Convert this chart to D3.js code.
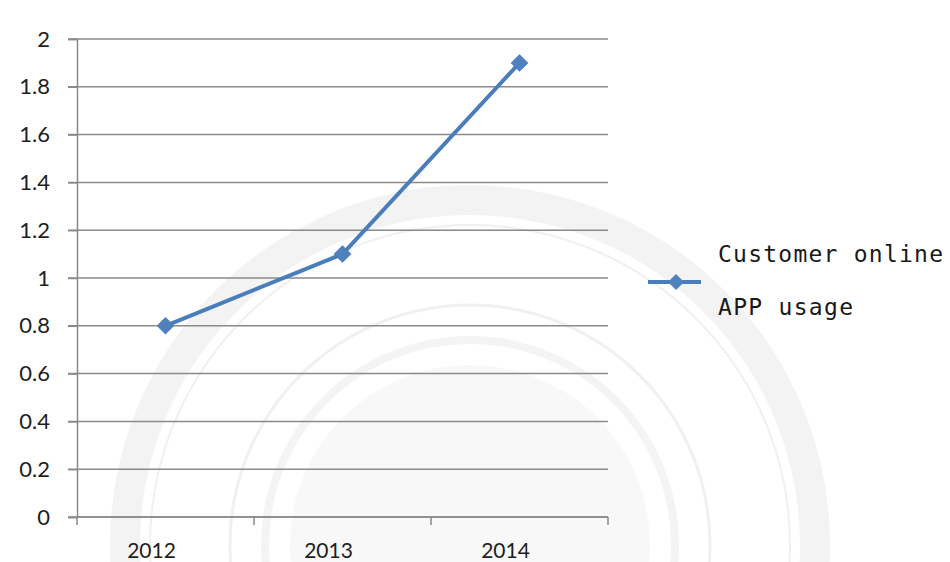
<!DOCTYPE html>
<html>
<head>
<meta charset="utf-8">
<script src="https://cdn.jsdelivr.net/npm/d3@7"></script>
<style>
  html, body { margin: 0; padding: 0; background: #ffffff; }
  svg { display: block; }
</style>
</head>
<body>
<svg id="chart" width="950" height="562"></svg>
<script>
// Chart data
const years = ["2012", "2013", "2014"];
const usage = [0.8, 1.1, 1.9];
const yTicks = [0, 0.2, 0.4, 0.6, 0.8, 1, 1.2, 1.4, 1.6, 1.8, 2];
const seriesName = ["Customer online", "APP usage"];

const svg = d3.select("#chart");

const plot = { left: 77, right: 608, top: 39, bottom: 517 };

const x = d3.scaleBand().domain(years).range([plot.left, plot.right]).paddingInner(0).paddingOuter(0);
const y = d3.scaleLinear().domain([0, 2]).range([plot.bottom, plot.top]);

// Faint seal in the background
const seal = svg.append("g").attr("class", "seal").attr("fill", "none");
const cx = 470, cy = 545;
seal.append("circle").attr("cx", cx).attr("cy", cy).attr("r", 345)
  .attr("stroke", "#f3f3f3").attr("stroke-width", 30);
seal.append("circle").attr("cx", cx).attr("cy", cy).attr("r", 320)
  .attr("stroke", "#f0f0f0").attr("stroke-width", 2);
seal.append("circle").attr("cx", cx).attr("cy", cy).attr("r", 240)
  .attr("stroke", "#f0f0f0").attr("stroke-width", 3);
seal.append("circle").attr("cx", cx).attr("cy", cy).attr("r", 205)
  .attr("stroke", "#f4f4f4").attr("stroke-width", 8);
seal.append("circle").attr("cx", cx).attr("cy", cy).attr("r", 180)
  .attr("fill", "#f8f8f8");

// Horizontal gridlines with left tick stubs
const gridColor = "#8a8a8a";
svg.append("g")
  .selectAll("line")
  .data(yTicks)
  .join("line")
  .attr("x1", plot.left - 9)
  .attr("x2", plot.right)
  .attr("y1", d => y(d))
  .attr("y2", d => y(d))
  .attr("stroke", gridColor)
  .attr("stroke-width", 1.5);

// Y axis
const yAxis = d3.axisLeft(y).tickValues(yTicks).tickSize(9).tickPadding(18)
  .tickFormat(d => d3.format("~g")(d));
const gy = svg.append("g").attr("transform", `translate(${plot.left},0)`).call(yAxis);
gy.select(".domain").attr("stroke", gridColor).attr("stroke-width", 1.5);
gy.selectAll(".tick line").attr("stroke", gridColor).attr("stroke-width", 1.5);
gy.selectAll(".tick text")
  .attr("font-family", "Lato, 'Open Sans', sans-serif")
  .attr("font-size", 22)
  .attr("fill", "#1e1e1e");

// X axis with ticks on band edges
const gx = svg.append("g").attr("transform", `translate(0,${plot.bottom})`);
gx.append("line")
  .attr("x1", plot.left).attr("x2", plot.right)
  .attr("stroke", gridColor).attr("stroke-width", 1.5);
const edges = years.map(d => x(d)).concat([x(years[years.length - 1]) + x.bandwidth()]);
gx.selectAll("line.edge")
  .data(edges)
  .join("line")
  .attr("class", "edge")
  .attr("x1", d => d).attr("x2", d => d)
  .attr("y1", 0).attr("y2", 8)
  .attr("stroke", gridColor).attr("stroke-width", 1.5);
gx.selectAll("text")
  .data(years)
  .join("text")
  .attr("x", d => x(d) + x.bandwidth() / 2 - 14)
  .attr("y", 41)
  .attr("text-anchor", "middle")
  .attr("font-family", "Lato, 'Open Sans', sans-serif")
  .attr("font-size", 21)
  .attr("fill", "#1e1e1e")
  .text(d => d);

// Series line and diamond markers
const lineColor = "#4a7ebb";
const markerColor = "#4f81bd";
const pts = years.map((d, i) => [x(d) + x.bandwidth() / 2, y(usage[i])]);
svg.append("path")
  .datum(pts)
  .attr("fill", "none")
  .attr("stroke", lineColor)
  .attr("stroke-width", 4)
  .attr("stroke-linejoin", "round")
  .attr("d", d3.line());

const diamond = d3.symbol().type(d3.symbolSquare).size(130);
svg.append("g")
  .selectAll("path")
  .data(pts)
  .join("path")
  .attr("transform", d => `translate(${d[0]},${d[1]}) rotate(45)`)
  .attr("d", diamond)
  .attr("fill", markerColor)
  .attr("stroke", lineColor)
  .attr("stroke-width", 1);

// Legend
const lg = svg.append("g");
lg.append("line")
  .attr("x1", 648).attr("x2", 701).attr("y1", 282).attr("y2", 282)
  .attr("stroke", lineColor).attr("stroke-width", 4);
lg.append("path")
  .attr("transform", "translate(676,282) rotate(45)")
  .attr("d", diamond)
  .attr("fill", markerColor);
lg.selectAll("text")
  .data(seriesName)
  .join("text")
  .attr("x", 718)
  .attr("y", (d, i) => 262 + i * 53)
  .attr("font-family", "'DejaVu Sans Mono', 'Liberation Mono', monospace")
  .attr("font-size", 23)
  .attr("textLength", d => d.length * 15)
  .attr("lengthAdjust", "spacing")
  .attr("fill", "#1a1a1a")
  .text(d => d);
</script>
</body>
</html>
